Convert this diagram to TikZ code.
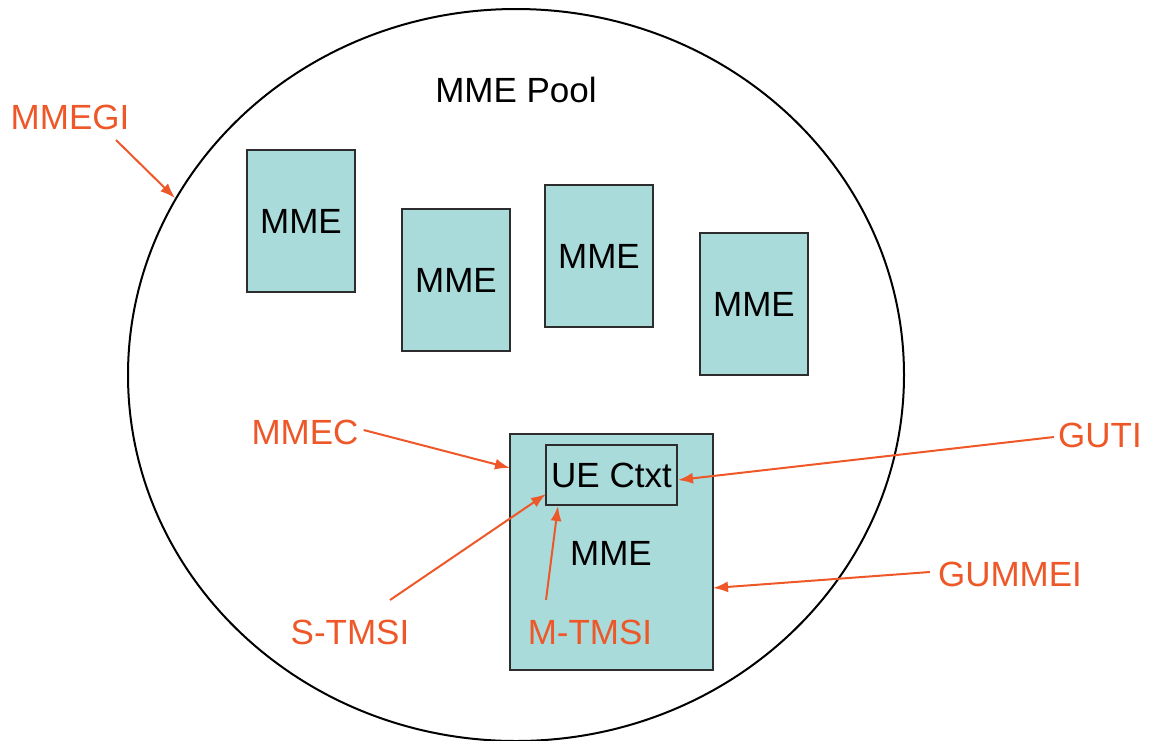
\documentclass[tikz,border=0pt]{standalone}
\usepackage{fontspec}
\setmainfont{Liberation Sans}
\usetikzlibrary{arrows.meta}
\definecolor{labelorange}{RGB}{238,88,40}
\definecolor{mmecyan}{RGB}{169,219,219}
\definecolor{boxline}{RGB}{45,45,45}
\tikzstyle{mmebox} = [
    rectangle,
    fill=mmecyan,
    draw=boxline,
    line width=2pt,
    minimum width=108pt,
    minimum height=142pt,
    inner sep=0pt
]
\tikzstyle{ctxbox} = [
    rectangle,
    draw=boxline,
    line width=2pt,
    minimum width=131pt,
    minimum height=60pt,
    inner sep=0pt
]
\tikzstyle{idlabel} = [text=labelorange, inner sep=0pt]
\tikzstyle{arrow} = [draw=labelorange, line width=2pt, -{Latex[length=15pt,width=11pt]}]

\begin{document}
\begin{tikzpicture}[x=1pt, y=-1pt, font=\fontsize{35}{40}\selectfont]

\useasboundingbox (0,0) rectangle (1151,740);

% pool
\draw[line width=2pt] (516,375) ellipse [x radius=388, y radius=366];
\node (pool) at (516,90) {MME Pool};

% MMEs in the pool
\node (mme1) [mmebox] at (301,221) {MME};
\node (mme2) [mmebox] at (456,280) {MME};
\node (mme3) [mmebox] at (599,256) {MME};
\node (mme4) [mmebox] at (754,304) {MME};

% serving MME with UE context
\node (mme5) [mmebox, minimum width=203pt, minimum height=236pt] at (611.5,552) {};
\node (ue) [ctxbox] at (611.5,475) {UE Ctxt};
\node (mme5txt) at (611,553) {MME};

% identifiers
\node (mmegi) [idlabel] at (70,117) {MMEGI};
\node (mmec) [idlabel] at (305,432) {MMEC};
\node (guti) [idlabel] at (1100,435) {GUTI};
\node (gummei) [idlabel] at (1010,574) {GUMMEI};
\node (stmsi) [idlabel] at (350,632) {S-TMSI};
\node (mtmsi) [idlabel] at (590,632) {M-TMSI};

\coordinate (pooledge) at (175,198);
\coordinate (mmecend) at (510,468);
\coordinate (gummeiend) at (713,588);
\coordinate (stmsiend) at (546,494);
\coordinate (mtmsiend) at (558,506);

\draw [arrow] (116,140) -- (pooledge);
\draw [arrow] (mmec.east) ++(5pt,2pt) -- (mmecend);
\draw [arrow] (guti.west) ++(-4pt,-2pt) -- (ue.east |- 0,480);
\draw [arrow] (gummei.west) ++(-8pt,2pt) -- (gummeiend);
\draw [arrow] (390,600) -- (stmsiend);
\draw [arrow] (546,600) -- (mtmsiend);

\end{tikzpicture}
\end{document}
